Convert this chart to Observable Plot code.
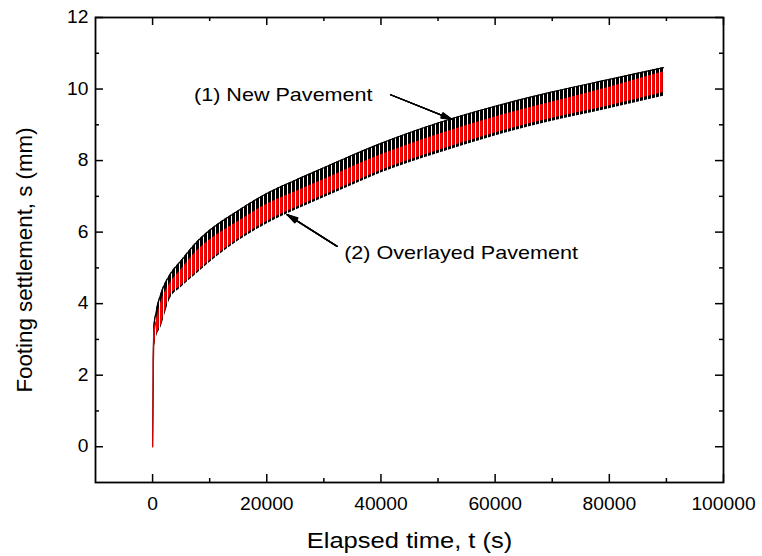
<!DOCTYPE html>
<html><head><meta charset="utf-8">
<script src="https://cdn.jsdelivr.net/npm/d3@7"></script>
<script src="https://cdn.jsdelivr.net/npm/@observablehq/plot@0.6"></script>
<style>body{margin:0;background:#fff;}</style>
</head><body><div id="chart"></div>
<script>
// elapsed time (s) where the envelopes were read
const times     = [0, 200, 600, 1500, 3000, 5000, 7500, 10000, 15000, 20000, 25000, 30000, 35000, 40000, 50000, 60000, 70000, 80000, 89500];
// (1) New Pavement: upper / lower envelope of the cyclic settlement (mm)
const newUpper  = [0, 3.3, 3.75, 4.3, 4.8, 5.2, 5.68, 6.05, 6.6, 7.08, 7.45, 7.8, 8.15, 8.48, 9.05, 9.52, 9.92, 10.27, 10.6];
const newLower  = [0, 2.6, 3.0, 3.35, 4.1, 4.45, 4.8, 5.15, 5.75, 6.23, 6.61, 6.96, 7.31, 7.65, 8.2, 8.69, 9.1, 9.45, 9.8];
// (2) Overlayed Pavement
const overUpper = [0, 3.2, 3.5, 4.05, 4.55, 4.95, 5.43, 5.78, 6.3, 6.78, 7.13, 7.47, 7.83, 8.16, 8.73, 9.22, 9.64, 10.05, 10.48];
const overLower = [0, 2.5, 3.05, 3.4, 4.2, 4.5, 4.85, 5.2, 5.8, 6.3, 6.68, 7.03, 7.38, 7.72, 8.28, 8.77, 9.18, 9.53, 9.9];

const xTicks = [0, 20000, 40000, 60000, 80000, 100000];
const xMinor = [10000, 30000, 50000, 70000, 90000];
const yTicks = [0, 2, 4, 6, 8, 10, 12];
const yMinor = [1, 3, 5, 7, 9, 11];
const xTitle = "Elapsed time, t (s)";
const yTitle = "Footing settlement, s (mm)";
const noteText = ["(1) New Pavement", "(2) Overlayed Pavement"];
const noteT = [7250, 33560];
const noteS = [9.82, 5.41];
const arrowT1 = [41690, 32330];
const arrowS1 = [9.84, 5.60];
const arrowT2 = [52460, 23560];
const arrowS2 = [9.15, 6.49];

const newRows = times.map((t, i) => ({t, hi: newUpper[i], lo: newLower[i]}));
const overRows = times.map((t, i) => ({t, hi: overUpper[i], lo: overLower[i]}));
const notes = noteText.map((text, i) => ({text, t: noteT[i], s: noteS[i]}));
const arrows = arrowT1.map((t1, i) => ({t1, s1: arrowS1[i], t2: arrowT2[i], s2: arrowS2[i]}));

const W = 762, H = 556, mL = 95, mR = 39, mT = 17, mB = 74;
const innerH = H - mT - mB, innerW = W - mL - mR;
const font = "'Liberation Sans', Arial, sans-serif";

// filled-looking arrowheads: stacked heads of decreasing spread
const arrowMarks = [30, 22, 15, 8].map(a =>
  Plot.arrow(arrows, {x1: "t1", y1: "s1", x2: "t2", y2: "s2", stroke: "#000", strokeWidth: 1.3, headLength: 13, headAngle: a}));

const plot = Plot.plot({
  width: W, height: H,
  marginLeft: mL, marginRight: mR, marginTop: mT, marginBottom: mB,
  style: {fontFamily: font, fontSize: "17.5px", color: "#000", background: "#fff"},
  x: {domain: [-10000, 100000]},
  y: {domain: [-1, 12]},
  marks: [
    Plot.areaY(newRows, {x: "t", y1: "lo", y2: "hi", fill: "url(#stripeBlack)", curve: "monotone-x"}),
    Plot.lineY(newRows, {x: "t", y: "hi", stroke: "#000", strokeWidth: 1.2, curve: "monotone-x"}),
    Plot.areaY(overRows, {x: "t", y1: "lo", y2: "hi", fill: "url(#stripeRed)", curve: "monotone-x"}),
    Plot.lineY(overRows.slice(0, 3), {x: "t", y: "hi", stroke: "#e00000", strokeWidth: 1.2}),
    // axes: labels only
    Plot.axisX({ticks: xTicks, tickSize: 0, tickPadding: 15, tickFormat: d => String(d), label: null}),
    Plot.axisY({ticks: yTicks, tickSize: 0, tickPadding: 7, tickFormat: d => String(d), label: null}),
    // inward ticks on four sides
    Plot.ruleX(xTicks, {insetTop: innerH - 8, stroke: "#000", strokeWidth: 1.5}),
    Plot.ruleX(xTicks, {insetBottom: innerH - 8, stroke: "#000", strokeWidth: 1.5}),
    Plot.ruleX(xMinor, {insetTop: innerH - 4, stroke: "#000", strokeWidth: 1.5}),
    Plot.ruleX(xMinor, {insetBottom: innerH - 4, stroke: "#000", strokeWidth: 1.5}),
    Plot.ruleY(yTicks, {insetRight: innerW - 8, stroke: "#000", strokeWidth: 1.5}),
    Plot.ruleY(yTicks, {insetLeft: innerW - 8, stroke: "#000", strokeWidth: 1.5}),
    Plot.ruleY(yMinor, {insetRight: innerW - 4, stroke: "#000", strokeWidth: 1.5}),
    Plot.ruleY(yMinor, {insetLeft: innerW - 4, stroke: "#000", strokeWidth: 1.5}),
    Plot.frame({stroke: "#000", strokeWidth: 1.8}),
    // axis titles
    Plot.text([xTitle], {text: d => d, frameAnchor: "bottom", textAnchor: "middle", lineAnchor: "middle", dy: 58, fontSize: 22, fill: "#000"}),
    Plot.text([yTitle], {text: d => d, frameAnchor: "left", textAnchor: "middle", lineAnchor: "middle", dx: -71, dy: 10, rotate: -90, fontSize: 22.3, fill: "#000"}),
    // annotations
    Plot.text(notes, {x: "t", y: "s", text: "text", textAnchor: "start", fontSize: 18.6, fill: "#000"}),
    ...arrowMarks
  ]
});

document.getElementById("chart").appendChild(plot);

const svg = d3.select(plot);
const defs = svg.insert("defs", ":first-child");
const pb = defs.append("pattern").attr("id", "stripeBlack").attr("patternUnits", "userSpaceOnUse")
  .attr("width", 4).attr("height", 4);
pb.append("rect").attr("x", 0).attr("y", 0).attr("width", 3).attr("height", 4).attr("fill", "#000");
const pr = defs.append("pattern").attr("id", "stripeRed").attr("patternUnits", "userSpaceOnUse")
  .attr("width", 4).attr("height", 4);
pr.append("rect").attr("x", 0).attr("y", 0).attr("width", 2.8).attr("height", 4).attr("fill", "#ff0000");

// the reference's lettering is slightly wide: stretch horizontal texts
svg.selectAll("text").each(function() {
  const tr = (this.getAttribute("transform") || "") + (this.parentNode.getAttribute("transform") || "");
  if (tr.includes("rotate")) return;
  const len = this.getComputedTextLength();
  if (len > 0) {
    const f = /^\d+$/.test(this.textContent) ? 1.1 : 1.16;
    this.setAttribute("textLength", (len * f).toFixed(1));
    this.setAttribute("lengthAdjust", "spacingAndGlyphs");
  }
});
</script>
</body></html>
